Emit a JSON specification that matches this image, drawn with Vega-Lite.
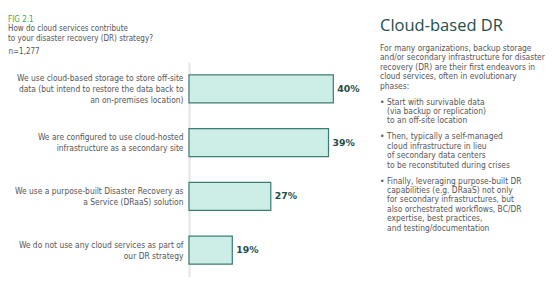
{
  "$schema": "https://vega.github.io/schema/vega-lite/v6.json",
  "padding": {"left": 8, "top": 16, "right": 0, "bottom": 0},
  "spacing": 13,
  "config": {"view": {"stroke": null}, "font": "DejaVu Sans Condensed, Liberation Sans, sans-serif"},
  "hconcat": [
    {
      "width": 178,
      "height": 215,
      "title": {
        "text": "FIG 2.1",
        "subtitle": ["How do cloud services contribute", "to your disaster recovery (DR) strategy?"],
        "anchor": "start",
        "frame": "group",
        "dx": -181,
        "fontSize": 8,
        "fontWeight": "normal",
        "color": "#3aa853",
        "subtitleFontSize": 8,
        "subtitleColor": "#555555",
        "subtitleLineHeight": 10,
        "subtitlePadding": 1,
        "offset": 4
      },
      "data": {
        "values": [
          {"answer": "We use cloud-based storage to store off-site|data (but intend to restore the data back to|an on-premises location)", "share": 0.40},
          {"answer": "We are configured to use cloud-hosted|infrastructure as a secondary site", "share": 0.39},
          {"answer": "We use a purpose-built Disaster Recovery as|a Service (DRaaS) solution", "share": 0.27},
          {"answer": "We do not use any cloud services as part of|our DR strategy", "share": 0.19}
        ]
      },
      "encoding": {
        "y": {
          "field": "answer",
          "type": "nominal",
          "sort": null,
          "scale": {"paddingInner": 0.48, "paddingOuter": 0.24},
          "axis": {
            "labelExpr": "split(datum.label, '|')",
            "labelFontSize": 8.4,
            "labelColor": "#555555",
            "labelLineHeight": 11,
            "labelLimit": 400,
            "labelPadding": 6,
            "labelOffset": {"condition": {"test": "length(split(datum.value, '|')) > 2", "value": -11}, "value": -5.5},
            "ticks": false,
            "tickSize": 0,
            "domainColor": "#e4e4e4",
            "domainWidth": 2,
            "title": "n=1,277",
            "titleAngle": 0,
            "titleAlign": "left",
            "titleBaseline": "middle",
            "titleX": -181,
            "titleY": -11,
            "titleFontSize": 8,
            "titleFontWeight": "normal",
            "titleColor": "#555555"
          }
        }
      },
      "layer": [
        {
          "mark": {"type": "bar", "fill": "#cdeee6", "stroke": "#3a7c73", "strokeWidth": 1.2},
          "encoding": {
            "x": {"field": "share", "type": "quantitative", "scale": {"domain": [0.1, 0.47], "zero": false, "nice": false, "clamp": true}, "axis": null}
          }
        },
        {
          "mark": {"type": "text", "align": "left", "baseline": "middle", "dx": 4, "fontWeight": "bold", "fontSize": 9.3, "color": "#1d4e4a", "font": "DejaVu Sans"},
          "encoding": {
            "x": {"field": "share", "type": "quantitative"},
            "text": {"field": "share", "type": "quantitative", "format": ".0%"}
          }
        }
      ]
    },
    {
      "width": 170,
      "height": 215,
      "title": {
        "text": "Cloud-based DR",
        "anchor": "start",
        "frame": "group",
        "fontSize": 16.5,
        "font": "Open Sans",
        "fontWeight": "normal",
        "color": "#1b4f4c",
        "offset": 9
      },
      "data": {
        "values": [
          {"row": 0, "indent": 0, "text": "For many organizations, backup storage"},
          {"row": 1, "indent": 0, "text": "and/or secondary infrastructure for disaster"},
          {"row": 2, "indent": 0, "text": "recovery (DR) are their first endeavors in"},
          {"row": 3, "indent": 0, "text": "cloud services, often in evolutionary"},
          {"row": 4, "indent": 0, "text": "phases:"},
          {"row": 5.7, "indent": 0, "text": "•"},
          {"row": 5.7, "indent": 1, "text": "Start with survivable data"},
          {"row": 6.7, "indent": 1, "text": "(via backup or replication)"},
          {"row": 7.7, "indent": 1, "text": "to an off-site location"},
          {"row": 9.4, "indent": 0, "text": "•"},
          {"row": 9.4, "indent": 1, "text": "Then, typically a self-managed"},
          {"row": 10.4, "indent": 1, "text": "cloud infrastructure in lieu"},
          {"row": 11.4, "indent": 1, "text": "of secondary data centers"},
          {"row": 12.4, "indent": 1, "text": "to be reconstituted during crises"},
          {"row": 14.1, "indent": 0, "text": "•"},
          {"row": 14.1, "indent": 1, "text": "Finally, leveraging purpose-built DR"},
          {"row": 15.1, "indent": 1, "text": "capabilities (e.g. DRaaS) not only"},
          {"row": 16.1, "indent": 1, "text": "for secondary infrastructures, but"},
          {"row": 17.1, "indent": 1, "text": "also orchestrated workflows, BC/DR"},
          {"row": 18.1, "indent": 1, "text": "expertise, best practices,"},
          {"row": 19.1, "indent": 1, "text": "and testing/documentation"}
        ]
      },
      "mark": {"type": "text", "align": "left", "baseline": "middle", "fontSize": 8.4, "color": "#555555"},
      "encoding": {
        "x": {"field": "indent", "type": "quantitative", "scale": {"domain": [0, 24], "nice": false}, "axis": null},
        "y": {"field": "row", "type": "quantitative", "scale": {"domain": [1.49, 24.36], "reverse": true, "nice": false, "zero": false}, "axis": null},
        "text": {"field": "text", "type": "nominal"}
      }
    }
  ]
}
